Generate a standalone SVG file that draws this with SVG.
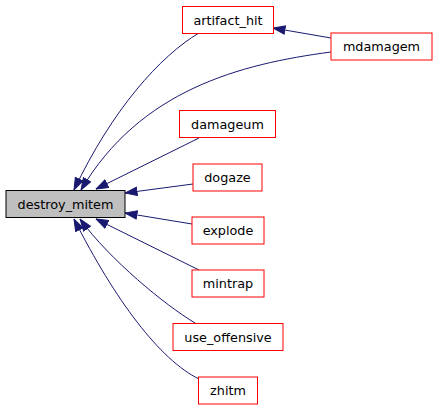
<svg xmlns="http://www.w3.org/2000/svg" width="437" height="411" viewBox="0 0 437 411">
<style>
.bg{fill:#ffffff}
.node rect{fill:#ffffff;stroke:#ff0000;stroke-width:1}
#n_destroy_mitem rect{fill:#bfbfbf;stroke:#000000}
.node text{font-family:"DejaVu Sans",sans-serif;font-size:12.8px;fill:#000000;text-anchor:middle}
.edge{fill:none;stroke:#191970;stroke-width:1;marker-end:url(#arr)}
</style>
<defs>
<marker id="arr" viewBox="0 0 13 10" refX="12.5" refY="5" markerWidth="13" markerHeight="10" markerUnits="userSpaceOnUse" orient="auto">
<path d="M0.5,0.8 L12.5,5 L0.5,9.2 z" fill="#191970" stroke="#191970" stroke-width="1"/>
</marker>
</defs>
<rect class="bg" x="0" y="0" width="437" height="411"/>
<g id="edges">
<path class="edge" d="M199,33 C160,56 112,110 74,190"/>
<path class="edge" d="M331,52 C240,64 140,90 81,190"/>
<path class="edge" d="M331,38 L273,28"/>
<path class="edge" d="M199,138 L96,189"/>
<path class="edge" d="M193,184 L125,193"/>
<path class="edge" d="M192,224 L125,213"/>
<path class="edge" d="M199,270 L96,219"/>
<path class="edge" d="M195,323 C165,305 110,260 80,219"/>
<path class="edge" d="M199,379 C160,360 115,300 74,219"/>
</g>
<g id="n_destroy_mitem" class="node"><rect x="6" y="190.5" width="119" height="27"/><text x="65.5" y="208.5">destroy_mitem</text></g>
<g id="n_artifact_hit" class="node"><rect x="182.5" y="6.5" width="91" height="27"/><text x="228" y="24.5">artifact_hit</text></g>
<g id="n_mdamagem" class="node"><rect x="331" y="33" width="101" height="27"/><text x="381.5" y="51">mdamagem</text></g>
<g id="n_damageum" class="node"><rect x="179.5" y="110.5" width="96" height="27"/><text x="227.5" y="128.5">damageum</text></g>
<g id="n_dogaze" class="node"><rect x="193" y="164" width="69" height="27"/><text x="227.5" y="182">dogaze</text></g>
<g id="n_explode" class="node"><rect x="192" y="217" width="72" height="27"/><text x="228" y="235">explode</text></g>
<g id="n_mintrap" class="node"><rect x="192" y="270" width="72" height="27"/><text x="228" y="288">mintrap</text></g>
<g id="n_use_offensive" class="node"><rect x="173" y="323.5" width="110" height="27"/><text x="228" y="341.5">use_offensive</text></g>
<g id="n_zhitm" class="node"><rect x="198.5" y="377" width="59" height="27"/><text x="228" y="395">zhitm</text></g>
</svg>
